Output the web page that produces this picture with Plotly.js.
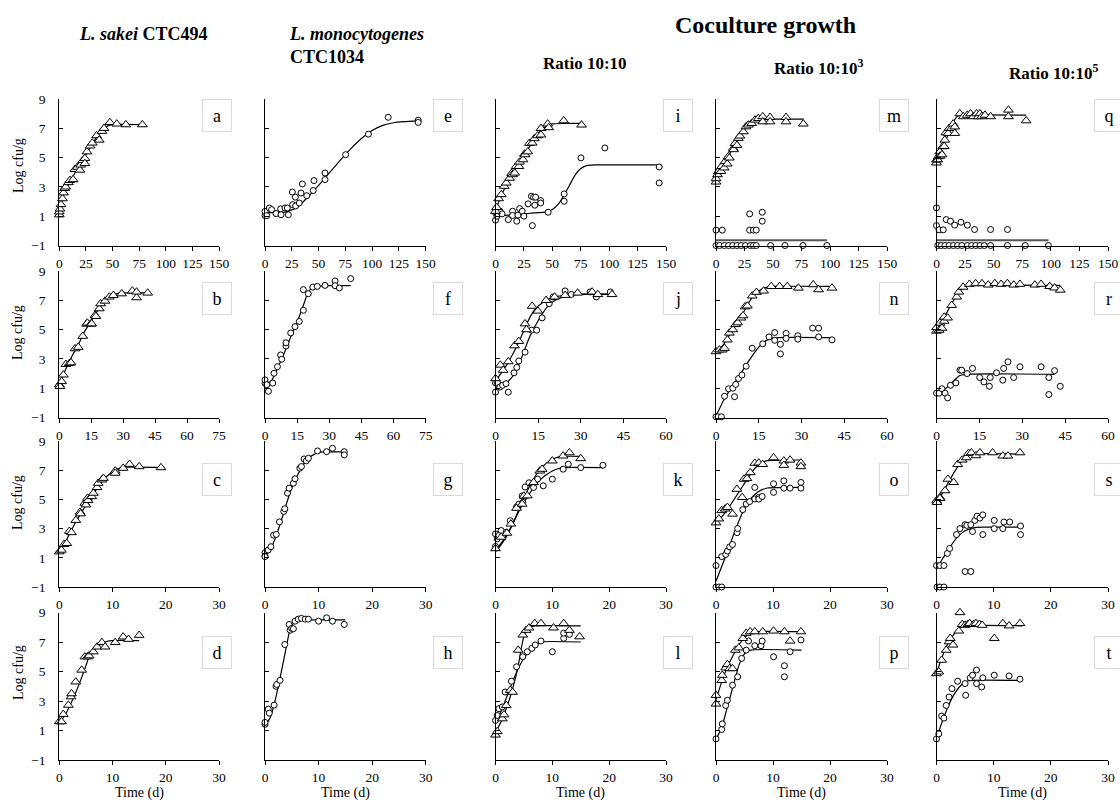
<!DOCTYPE html>
<html><head><meta charset="utf-8">
<script src="https://cdn.plot.ly/plotly-3.0.1.min.js"></script>
<style>html,body{margin:0;padding:0;background:#fff}#chart{width:1120px;height:802px}</style>
</head><body><div id="chart"></div>
<script>
// ---------- DATA (days, log cfu/g) ----------
// Panel a: L. sakei alone, 0-150 d
const aTriT=[0,0,0.6,1.6,3,4,5,6,8.5,10,13,14.7,17,19.4,20,22,24,24,26,29,31,35,37.5,40,42,47.5,54,62.5,78];
const aTriV=[1.1,1.3,1.5,1.8,2.2,2.6,2.9,3.0,3.3,3.45,3.5,4.2,4.35,4.15,4.5,4.8,4.95,4.6,5.4,5.8,6.0,6.5,6.2,6.8,7.0,7.4,7.3,7.25,7.25];
const aFitT=[0,2,4,7,10,15,20,25,30,35,40,45,50,78];
const aFitV=[1.3,1.9,2.4,2.9,3.3,4.0,4.6,5.2,5.8,6.4,6.85,7.15,7.25,7.25];
// Panel e: L. monocytogenes alone
const eCircT=[0,0,1.6,4,6.2,10.3,14.6,15,18.7,20.8,21.8,25.8,25.5,28.3,28.6,32,33.6,34.9,39,45,45.7,56,56,75.3,96.5,115,143,143];
const eCircV=[1.04,1.33,1.04,1.56,1.45,1.18,1.5,1.1,1.56,1.56,1.1,1.79,2.65,2.3,1.7,1.9,2.58,3.2,2.4,2.75,3.43,3.95,3.5,5.2,6.6,7.75,7.55,7.4];
const eFitT=[0,10,20,30,40,50,60,70,80,90,100,110,120,130,143];
const eFitV=[1.25,1.25,1.3,1.6,2.3,3.1,3.95,4.8,5.6,6.3,6.85,7.2,7.38,7.45,7.5];
// Panel i: ratio 10:10
const iTriT=[0,0.9,2.8,5.1,7.7,9.5,12.4,14.2,15,16.9,18.2,20.6,21.1,24.2,25.5,26,28.4,29.8,32.3,34.2,37.1,40,40,45.9,46.8,60,75.7];
const iTriV=[1.34,1.6,2.2,2.48,3.05,3.27,3.6,3.93,3.84,3.95,4.4,4.4,4.7,4.86,5.25,5.2,5.4,5.98,6.0,6.3,6.5,7.0,6.55,7.3,7.05,7.52,7.23];
const iTriFitT=[0,5,10,15,20,25,30,35,40,45,50,60,75.7];
const iTriFitV=[1.4,2.4,3.2,3.9,4.5,5.1,5.75,6.35,6.85,7.15,7.3,7.33,7.33];
const iCircT=[0,0,1.3,4,5.8,11.3,15,15,19.8,18.7,21.2,23.5,25,28.7,31.6,33.5,35.3,34.6,32.4,39.7,39.7,46.3,60.4,60.4,75.2,96.2,144,144];
const iCircV=[0.73,1.23,1.0,1.34,1.16,0.77,1.34,1.05,1.07,0.66,1.52,1.34,1.0,1.84,2.36,2.3,2.3,1.75,0.36,2.07,1.9,1.27,2.52,2.02,4.98,5.66,4.36,3.27];
const iCircFitT=[0,20,30,45,50,55,60,65,70,75,80,87,144];
const iCircFitV=[1.05,1.1,1.2,1.3,1.45,1.8,2.4,3.1,3.8,4.25,4.45,4.5,4.5];
// Panel m: ratio 10:10^3
const mTriT=[0,0,1.3,2.0,4.3,4.9,7.2,7.9,9.8,10.8,11.7,15.2,15.4,16.7,18.4,19.6,21,24,26.3,28.4,31.3,34.2,37.1,41,41,47.4,47.4,61.4,61.4,76.6];
const mTriV=[3.34,3.57,3.84,4.05,4.07,4.4,4.3,4.73,4.57,5.07,4.98,5.64,5.55,5.98,5.84,6.32,6.48,6.77,7.11,7.23,7.34,7.57,7.68,7.8,7.45,7.75,7.45,7.75,7.45,7.3];
const mTriFitT=[0,5,10,15,20,25,30,35,40,77];
const mTriFitV=[3.6,4.3,5.0,5.65,6.3,6.9,7.35,7.58,7.62,7.62];
const mCircT=[0,3.2,7.3,11,14.7,18.4,22.1,25.8,30.2,32.8,35.3,47.9,60.5,76.3,97.3,0,5.5,29.5,32.8,35.3,29.5,40.6,40.6];
const mCircV=[-1,-1,-1,-1,-1,-1,-1,-1,-1,-1,-1,-1,-1,-1,-1,0.05,0.05,0.05,0.05,0.05,1.16,1.27,0.66];
const mLineT=[0,97.3];
const mLineV=[-0.64,-0.64];
// Panel q: ratio 10:10^5
const qTriT=[0,0,1.1,1.5,2.9,3,4.8,5.3,6.7,7.3,8.2,10.2,11.1,13.1,14.6,16,16,20.4,23.4,26.9,29.8,32.2,35.1,36.5,38,39.5,42.4,47.4,62.9,62.9,78.4];
const qTriV=[4.64,4.84,4.86,5.07,5.4,5.1,5.2,5.75,5.77,6.2,6.7,6.66,7.0,7.0,7.3,6.66,7.1,8.0,7.8,7.9,8.0,7.8,8.0,7.8,8.0,7.8,7.9,7.8,8.25,7.8,7.52];
const qTriFitT=[0,4,8,12,16,19,22,78.4];
const qTriFitV=[4.85,5.5,6.2,6.9,7.6,7.85,7.9,7.9];
const qCircT=[0,0,2.2,5.9,8.5,12.2,15.9,21.4,27,33.3,47.3,62.1,1.1,4.1,7.4,11.1,14.8,18.5,22.2,27,30.7,34.4,38.1,41.8,47.3,62.1,77.6,97.9];
const qCircV=[1.57,0.36,0.07,0.07,0.77,0.66,0.39,0.59,0.39,0.09,0.09,0.09,-1,-1,-1,-1,-1,-1,-1,-1,-1,-1,-1,-1,-1,-1,-1,-1];
const qLineT=[0,97.9];
const qLineV=[-0.64,-0.64];
// Panel b
const bTriT=[0,0.3,1.1,1.9,3.1,4.7,5.5,7.4,8.9,11,12.8,13.2,14.7,15.2,16.8,17.2,18.8,19.4,21.5,23.5,25.4,29.3,34.3,36.3,36.3,41.5];
const bTriV=[1.24,1.13,1.46,1.91,2.63,2.69,2.74,3.7,3.8,4.55,5.38,5.45,5.38,5.4,5.98,5.9,6.43,6.77,6.95,7.23,7.34,7.45,7.64,7.18,7.57,7.5];
const bFitT=[0,3,6,9,12,15,18,21,24,27,30,41.5];
const bFitV=[1.3,2.3,3.2,4.0,4.9,5.6,6.3,6.9,7.3,7.45,7.5,7.5];
// Panel f
const fCircT=[0,0,0.8,1.6,3.6,4.2,5.8,7.3,7.8,9.8,9.8,12,14,16,17.9,17.9,20.2,22.3,24.4,28,32.7,32.7,34.7,40];
const fCircV=[1.35,1.57,1.24,0.79,1.35,2.02,2.47,3.27,2.98,3.88,4.1,4.77,5.2,5.56,6.32,7.73,7.45,7.9,7.95,8.02,8.32,8.0,7.84,8.48];
const fFitT=[0,3,6,9,12,15,18,20,22,25,30,40];
const fFitV=[1.3,1.5,2.4,3.4,4.5,5.5,6.7,7.5,7.85,7.95,8.0,8.0];
// Panel j
const jTriT=[0,1.7,2.7,4.5,6.7,8.2,10.4,10.9,12.9,14.9,17.8,20.8,24.5,28.9,34,36,41];
const jTriV=[1.66,2.58,2.23,2.81,3.9,4.2,5.4,5.0,6.6,6.27,7.0,7.23,7.34,7.5,7.57,7.4,7.4];
const jTriFitT=[0,3,6,9,12,14,17,20,25,30,41];
const jTriFitV=[1.5,2.3,3.3,4.5,5.8,6.4,6.9,7.2,7.35,7.42,7.42];
const jCircT=[0,0,0.7,1.5,2.5,3.7,4.5,6.5,7.5,8.2,10.4,12.7,14.5,16.4,18.9,20.3,24.5,26.7,33.3,35.5,40.4];
const jCircV=[0.73,1.36,1.36,1.08,1.2,1.31,0.73,2.05,2.42,2.86,3.46,4.96,4.96,5.8,6.77,7.23,7.64,7.4,7.57,7.23,7.57];
const jCircFitT=[0,3,6,9,12,15,18,21,25,30,41];
const jCircFitV=[1.0,1.2,1.8,3.0,4.5,5.6,6.5,7.0,7.3,7.4,7.42];
// Panel n
const nTriT=[0,1.2,2.2,3.0,4.0,4.7,5.9,6.9,7.6,8.8,9.5,10.2,11,12.7,14.2,16.7,19.4,22.3,25,28.9,34.1,36,40.7];
const nTriV=[3.5,3.62,3.62,3.73,4.3,4.77,5.0,5.35,5.47,5.8,5.95,6.56,6.62,7.3,7.55,7.64,7.95,7.95,7.95,7.84,8.07,7.73,7.84];
const nTriFitT=[0,2,4,6,8,10,12,14,16,18,20,41];
const nTriFitV=[3.5,3.8,4.4,5.0,5.6,6.3,7.0,7.5,7.75,7.9,7.95,7.95];
const nCircT=[0,0.7,1.9,3,4.4,5.9,6.5,6.9,7.9,9.1,10.6,12.7,16.4,18.6,20.6,20.6,22.6,22.6,24.6,24.6,28.7,28.7,33.9,36,36,40.7];
const nCircV=[-0.95,-0.95,-0.95,0.45,0.96,1.0,0.42,1.26,1.66,1.9,2.5,3.73,4.03,4.5,4.8,4.27,3.34,4.0,4.74,4.4,4.58,4.35,5.1,5.1,4.5,4.3];
const nCircFitT=[0,3,6,9,12,15,18,21,41];
const nCircFitV=[-0.9,0.3,1.2,2.1,3.0,3.8,4.3,4.45,4.45];
// Panel r
const rTriT=[0,0,0.9,1.2,1.9,2.7,2.7,3.9,5.3,7.1,7.8,9.3,11.5,13.7,15.9,18.1,20.4,22.6,24.8,27,29.2,34.4,36.6,39.6,41.3,43.3];
const rTriV=[4.9,5.14,4.96,5.45,5.1,5.58,5.86,5.8,6.66,7.23,7.57,7.9,8.1,8.14,8.14,8.05,8.15,8.1,8.15,8.05,8.1,8.05,8.1,7.95,7.85,7.7];
const rTriFitT=[0,2,4,6,8,10,12,43.3];
const rTriFitV=[5.0,5.6,6.3,7.0,7.6,7.95,8.02,8.02];
const rCircT=[0,0.9,1.9,3,3.9,4.9,6.8,8.2,8.8,10.7,12.6,15.1,16.6,18.5,18.8,21,23.2,23.5,25,27,29.2,36.6,39.3,39.3,41.3,43.3];
const rCircV=[0.66,0.66,0.96,0.66,0.34,1.2,1.36,2.23,2.23,2.0,2.35,1.73,1.43,1.13,1.73,2.05,1.55,2.35,2.8,1.73,2.46,2.46,1.73,0.57,2.2,1.13];
const rCircFitT=[0,3,6,8,10,41.3];
const rCircFitV=[0.75,0.95,1.5,1.85,1.95,1.95];
// Panel c
const cTriT=[0,0.4,0.9,1.4,1.9,2.3,3.1,3.9,4.0,4.8,5.0,5.3,5.4,6.1,6.4,7.1,7.3,8.0,8.3,10.5,10.5,12,13.2,15,19.1];
const cTriV=[1.42,1.53,1.92,1.99,2.82,2.73,3.57,4.13,4.02,4.75,4.63,5.09,4.93,5.2,5.43,5.82,6.11,6.34,6.45,6.95,6.8,7.14,7.41,7.25,7.18];
const cFitT=[0,1,2,3,4,5,6,7,8,9,10,11,12,19.1];
const cFitV=[1.45,2.0,2.7,3.4,4.0,4.6,5.15,5.7,6.2,6.6,6.9,7.1,7.2,7.2];
// Panel g
const gCircT=[0,0,0,0.6,1.1,1.6,2.1,2.7,3.5,3.7,4.2,4.5,5.3,5.6,6.5,6.8,7.3,7.7,8.1,9.8,11.5,12.6,14.8,14.8];
const gCircV=[1.35,1.13,1.08,1.53,1.76,2.55,2.6,3.46,4.18,4.36,5.43,5.77,6.11,6.41,7.14,7.25,7.77,7.64,7.82,8.32,8.27,8.5,8.27,8.05];
const gFitT=[0,1,2,3,4,5,6,7,8,9,10,11,15];
const gFitV=[1.2,1.6,2.4,3.5,4.7,5.8,6.6,7.3,7.8,8.05,8.2,8.25,8.25];
// Panel k
const kTriT=[0,1.0,2.0,2.7,3.7,4.7,5.0,5.6,6.7,7.8,8.2,10,11.9,13,15];
const kTriV=[1.63,2.42,2.69,3.32,4.4,4.68,5.24,5.25,6.16,6.95,7.07,7.64,7.98,8.2,7.8];
const kTriFitT=[0,1,2,3,4,5,6,7,8,9,10,11,12,15];
const kTriFitV=[1.4,1.9,2.5,3.3,4.2,5.1,5.9,6.6,7.1,7.5,7.75,7.9,7.95,7.95];
const kCircT=[0,0,0.3,0.6,1.0,1.9,2.6,3.7,4.1,4.7,4.8,5.2,5.9,6.7,6.9,7.4,8.4,10,11.9,12.8,15,18.9];
const kCircV=[1.78,2.64,2.3,2.53,2.87,2.75,3.54,4.49,4.67,5.24,4.8,5.85,6.14,5.82,6.2,6.39,5.93,6.39,7.07,7.41,7.18,7.34];
const kCircFitT=[0,1,2,3,4,5,6,7,8,9,10,11,12,18.9];
const kCircFitV=[1.5,2.0,2.6,3.3,4.1,4.8,5.4,6.0,6.4,6.7,6.95,7.1,7.18,7.18];
// Panel o
const oTriT=[0,0.5,1.0,1.6,2.0,2.9,3.67,4.6,4.93,5.45,6.0,6.8,7.5,8.2,10.1,11.9,11.9,13,14.9,14.9];
const oTriV=[3.4,3.67,4.24,4.35,4.46,4.0,5.7,5.14,6.39,6.43,6.84,7.48,7.5,7.4,7.86,7.64,7.34,7.7,7.5,7.25];
const oTriFitT=[0,1,2,3,4,5,6,7,8,9,15];
const oTriFitV=[3.4,3.8,4.3,4.9,5.5,6.1,6.7,7.2,7.5,7.65,7.7];
const oCircT=[0,0,0.5,1.0,1.0,1.7,2.0,2.4,2.9,3.7,3.8,4.7,5.3,5.9,6.8,6.8,7.5,7.5,8.1,10.1,10.1,11.9,11.9,13,14.9,14.9];
const oCircV=[0.47,-1,-1,-1,1.08,1.23,1.46,1.75,1.91,2.72,3.0,4.3,4.69,4.85,5.03,5.82,5.14,5.02,5.2,6.07,5.48,6.27,5.77,5.77,6.16,5.77];
const oCircFitT=[0,1,2,3,4,5,6,7,8,9,15];
const oCircFitV=[-0.6,0.4,1.4,2.5,3.5,4.4,5.0,5.4,5.65,5.78,5.82];
// Panel s
const sTriT=[0,0.1,0.6,0.6,1.5,2.0,3.0,3.7,4.5,5.2,5.6,6.1,6.9,7.6,9.8,11.6,12.5,14.6];
const sTriV=[4.91,4.8,5.14,5.07,5.6,6.39,6.16,7.4,7.7,7.86,8.16,8.2,8.0,8.2,8.2,7.98,7.98,8.2];
const sTriFitT=[0,1,2,3,4,5,6,15];
const sTriFitV=[4.9,5.4,6.1,6.8,7.4,7.9,8.1,8.1];
const sCircT=[0,0.6,1.3,0.1,0.6,1.3,1.9,2.3,3.5,4.1,5.0,5.3,6.0,6.3,6.7,7.1,7.6,8.1,8.1,10.1,10.1,11.6,11.8,12.8,14.7,14.7,5.0,6.0];
const sCircV=[0.47,0.47,0.47,-1,-1,-1,1.3,1.64,2.59,3.0,3.27,3.22,3.27,2.8,3.56,3.85,3.72,3.94,2.59,3.56,3.0,3.0,3.45,3.45,3.18,2.59,0.06,0.06];
const sCircFitT=[0,1,2,3,4,5,6,7,8,15];
const sCircFitV=[0.25,0.9,1.5,2.1,2.55,2.85,3.0,3.08,3.1,3.1];
// Panel d
const dTriT=[0,0.4,0.75,1.7,2.2,2.3,3.1,4.2,4.8,5.3,5.6,6.4,7.1,8.0,8.6,10.5,12,13,15];
const dTriV=[1.6,1.6,2.1,2.72,3.29,3.5,4.3,5.1,6.0,6.0,6.07,6.34,6.67,6.97,6.67,6.97,7.35,7.19,7.46];
const dFitT=[0,1,2,3,4,5,5.5,6,7,8,9,10,15];
const dFitV=[1.5,2.0,2.7,3.5,4.4,5.4,5.9,6.2,6.6,6.9,7.05,7.1,7.1];
// Panel h
const hCircT=[0,0,0.6,0.8,1.7,2.05,2.2,2.8,3.7,4.5,4.7,5.0,5.3,5.6,6.2,6.8,7.5,8.1,10,11.5,12.6,14.8];
const hCircV=[1.42,1.55,2.45,2.18,2.72,4.0,4.12,4.4,6.83,8.19,7.8,7.92,7.9,8.41,8.55,8.6,8.55,8.55,8.41,8.64,8.41,8.19];
const hFitT=[0,1,2,3,4,4.5,5,5.5,6,8,15];
const hFitV=[1.3,1.9,3.2,4.9,6.7,7.6,8.1,8.35,8.45,8.5,8.5];
// Panel l
const lTriT=[0,0.3,1.2,1.5,1.9,2.6,3.0,4.0,4.8,5.4,5.9,6.9,8.0,10.2,12,13,14.8];
const lTriV=[0.7,0.93,1.8,2.07,2.7,3.73,3.6,6.45,7.48,7.8,7.96,8.26,8.26,7.96,8.26,7.8,7.36];
const lTriFitT=[0,1,2,3,4,4.5,5,5.5,6,7,15];
const lTriFitV=[0.9,1.6,2.6,3.8,5.4,6.5,7.4,7.8,8.0,8.1,8.1];
const lCircT=[0,0.3,0.6,1.2,1.7,2.8,3.7,4.8,5.6,6.4,7.0,8.0,10,12,12,13];
const lCircV=[1.68,2.02,2.48,2.6,3.61,4.34,5.32,6.0,6.34,6.57,6.8,7.07,6.34,7.25,7.6,7.52];
const lCircFitT=[0,1,2,3,4,5,6,7,8,15];
const lCircFitV=[1.5,2.3,3.3,4.3,5.2,5.9,6.4,6.75,7.0,7.0];
// Panel p
const pTriT=[0,0,1.0,1.1,1.7,2.0,2.4,2.9,3.4,4.0,4.7,5.3,6.0,6.8,8.2,10.1,12,13,14.9];
const pTriV=[3.39,2.8,4.4,4.75,5.25,5.48,5.2,5.2,6.45,6.61,7.25,7.6,7.7,7.7,7.7,7.75,7.7,7.07,7.7];
const pTriFitT=[0,1,2,3,4,5,6,7,15];
const pTriFitV=[3.1,4.3,5.3,6.1,6.8,7.3,7.6,7.7,7.7];
const pCircT=[0,1.0,1.1,1.7,2.0,2.9,3.8,4.5,5.3,5.7,6.8,7.9,8.1,10.1,12,12,13,14.9];
const pCircV=[0.43,1.07,1.45,2.7,3.05,4.07,4.64,5.89,6.45,7.07,6.75,6.75,7.07,6.0,5.39,4.64,6.34,7.14];
const pCircFitT=[0,1,2,3,4,5,6,15];
const pCircFitV=[0.4,1.2,2.6,4.0,5.4,6.2,6.45,6.45];
// Panel t
const tTriT=[0,0.4,0.9,1.7,2.2,2.4,2.9,3.9,4.1,4.5,5.0,5.5,5.8,6.5,6.9,7.5,8.0,10.1,11.6,12.7,14.6];
const tTriV=[4.86,4.98,5.77,6.45,7.02,7.25,6.8,7.75,9.0,8.2,8.14,8.2,8.26,8.2,8.26,8.2,8.14,7.25,8.26,8.1,8.26];
const tTriFitT=[0,1,2,3,4,5,15];
const tTriFitV=[4.9,6.0,6.9,7.5,7.95,8.1,8.1];
const tCircT=[0,0.4,0.9,1.3,1.7,2.2,2.7,3.7,5.0,5.1,5.9,6.3,7.0,7.0,7.9,8.1,10.1,12.7,14.6];
const tCircV=[0.43,0.77,1.98,1.84,2.7,3.27,3.84,4.34,4.18,3.39,4.57,4.75,4.18,5.1,3.95,4.57,4.75,4.7,4.48];
const tCircFitT=[0,1,2,3,4,5,6,15];
const tCircFitV=[0.5,1.6,2.6,3.4,3.95,4.3,4.4,4.4];

// Tick labels / text
const yTickVals=[-1,1,3,5,7,9];
const panelLetters=['a','b','c','d','e','f','g','h','i','j','k','l','m','n','o','p','q','r','s','t'];
const xRanges=[[150,75,30,30],[150,75,30,30],[150,60,30,30],[150,60,30,30],[150,60,30,30]];
const xDticks=[[25,15,10,10],[25,15,10,10],[25,15,10,10],[25,15,10,10],[25,15,10,10]];

// ---------- LAYOUT GEOMETRY ----------
const W=1120,H=802;
const colX=[[59.3,219],[265,425.7],[495.5,666],[716,887],[936.5,1108]];
const rowY=[[99,245.5],[271,417.5],[441,587],[612.5,760]];
const yTitleY=[166,333,503,673];
const boxX=[217,448,678,894,1109];
const boxY=[115.5,298,479,652];
const FONT='"Liberation Serif","Times New Roman",serif';

const panels={
 a:{tri:[aTriT,aTriV],triFit:[aFitT,aFitV]},
 b:{tri:[bTriT,bTriV],triFit:[bFitT,bFitV]},
 c:{tri:[cTriT,cTriV],triFit:[cFitT,cFitV]},
 d:{tri:[dTriT,dTriV],triFit:[dFitT,dFitV]},
 e:{circ:[eCircT,eCircV],circFit:[eFitT,eFitV]},
 f:{circ:[fCircT,fCircV],circFit:[fFitT,fFitV]},
 g:{circ:[gCircT,gCircV],circFit:[gFitT,gFitV]},
 h:{circ:[hCircT,hCircV],circFit:[hFitT,hFitV]},
 i:{tri:[iTriT,iTriV],triFit:[iTriFitT,iTriFitV],circ:[iCircT,iCircV],circFit:[iCircFitT,iCircFitV]},
 j:{tri:[jTriT,jTriV],triFit:[jTriFitT,jTriFitV],circ:[jCircT,jCircV],circFit:[jCircFitT,jCircFitV]},
 k:{tri:[kTriT,kTriV],triFit:[kTriFitT,kTriFitV],circ:[kCircT,kCircV],circFit:[kCircFitT,kCircFitV]},
 l:{tri:[lTriT,lTriV],triFit:[lTriFitT,lTriFitV],circ:[lCircT,lCircV],circFit:[lCircFitT,lCircFitV]},
 m:{tri:[mTriT,mTriV],triFit:[mTriFitT,mTriFitV],circ:[mCircT,mCircV],gray:[mLineT,mLineV]},
 n:{tri:[nTriT,nTriV],triFit:[nTriFitT,nTriFitV],circ:[nCircT,nCircV],circFit:[nCircFitT,nCircFitV]},
 o:{tri:[oTriT,oTriV],triFit:[oTriFitT,oTriFitV],circ:[oCircT,oCircV],circFit:[oCircFitT,oCircFitV]},
 p:{tri:[pTriT,pTriV],triFit:[pTriFitT,pTriFitV],circ:[pCircT,pCircV],circFit:[pCircFitT,pCircFitV]},
 q:{tri:[qTriT,qTriV],triFit:[qTriFitT,qTriFitV],circ:[qCircT,qCircV],gray:[qLineT,qLineV]},
 r:{tri:[rTriT,rTriV],triFit:[rTriFitT,rTriFitV],circ:[rCircT,rCircV],circFit:[rCircFitT,rCircFitV]},
 s:{tri:[sTriT,sTriV],triFit:[sTriFitT,sTriFitV],circ:[sCircT,sCircV],circFit:[sCircFitT,sCircFitV]},
 t:{tri:[tTriT,tTriV],triFit:[tTriFitT,tTriFitV],circ:[tCircT,tCircV],circFit:[tCircFitT,tCircFitV]}
};

const traces=[];
const layout={width:W,height:H,margin:{l:0,r:0,t:0,b:0},paper_bgcolor:'#fff',plot_bgcolor:'rgba(0,0,0,0)',
  showlegend:false,font:{family:FONT,color:'#000',size:13.5},annotations:[]};

for(let c=0;c<5;c++){
 for(let r=0;r<4;r++){
  const idx=c*4+r; const n=idx+1;
  const letter=panelLetters[idx];
  const xa='xaxis'+(n===1?'':n), ya='yaxis'+(n===1?'':n);
  const xr='x'+(n===1?'':n), yr='y'+(n===1?'':n);
  layout[xa]={domain:[colX[c][0]/W,colX[c][1]/W],anchor:yr,range:[0,xRanges[c][r]],tick0:0,dtick:xDticks[c][r],
    showline:true,linecolor:'#000',linewidth:1,ticks:'outside',ticklen:4,tickcolor:'#000',tickwidth:1,
    showgrid:false,zeroline:false,fixedrange:true,tickfont:{family:FONT,size:13.5,color:'#000'},ticklabelstandoff:1};
  layout[ya]={domain:[1-rowY[r][1]/H,1-rowY[r][0]/H],anchor:xr,range:[-1,9],tickmode:'array',tickvals:yTickVals,
    showticklabels:c===0,showline:true,linecolor:'#000',linewidth:1,ticks:'inside',ticklen:4,tickcolor:'#000',tickwidth:1,
    showgrid:false,zeroline:false,fixedrange:true,tickfont:{family:FONT,size:13.5,color:'#000'},ticklabelstandoff:10};
  const P=panels[letter];
  const lineStyle={color:'#000',width:1.2};
  if(P.gray) traces.push({x:P.gray[0],y:P.gray[1],xaxis:xr,yaxis:yr,mode:'lines',line:{color:'#555',width:2.2},cliponaxis:false,hoverinfo:'skip'});
  if(P.triFit) traces.push({x:P.triFit[0],y:P.triFit[1],xaxis:xr,yaxis:yr,mode:'lines',line:Object.assign({shape:'spline',smoothing:0.5},lineStyle),hoverinfo:'skip'});
  if(P.circFit) traces.push({x:P.circFit[0],y:P.circFit[1],xaxis:xr,yaxis:yr,mode:'lines',line:Object.assign({shape:'spline',smoothing:0.5},lineStyle),hoverinfo:'skip'});
  if(P.circ) traces.push({x:P.circ[0],y:P.circ[1],xaxis:xr,yaxis:yr,mode:'markers',cliponaxis:false,
     marker:{symbol:'circle',size:6,color:'#fff',line:{color:'#000',width:1}}});
  if(P.tri) traces.push({x:P.tri[0],y:P.tri[1],xaxis:xr,yaxis:yr,mode:'markers',cliponaxis:false,
     marker:{symbol:'triangle-up',size:8.5,color:'#fff',line:{color:'#000',width:1}}});
  // panel letter box
  layout.annotations.push({xref:'paper',yref:'paper',x:boxX[c]/W,y:1-boxY[r]/H,xanchor:'center',yanchor:'middle',
    text:letter,showarrow:false,font:{family:FONT,size:18,color:'#000'},bgcolor:'#fff',bordercolor:'#d9d9d9',borderwidth:1,
    borderpad:0,width:28,height:31});
 }
}
// y titles
for(let r=0;r<4;r++){
  layout.annotations.push({xref:'paper',yref:'paper',x:18/W,y:1-yTitleY[r]/H,xanchor:'center',yanchor:'middle',
    text:'Log cfu/g',textangle:-90,showarrow:false,font:{family:FONT,size:14,color:'#000'}});
}
// x titles
for(let c=0;c<5;c++){
  layout.annotations.push({xref:'paper',yref:'paper',x:((colX[c][0]+colX[c][1])/2)/W,y:1-793/H,xanchor:'center',yanchor:'middle',
    text:'Time (d)',showarrow:false,font:{family:FONT,size:14,color:'#000'}});
}
// headers
const hdr=(x,y,text,size,xanchor,align)=>layout.annotations.push({xref:'paper',yref:'paper',x:x/W,y:1-y/H,xanchor:xanchor||'center',
  yanchor:'middle',align:align||'center',text:text,showarrow:false,font:{family:FONT,size:size,color:'#000'}});
hdr(765,25,'<b>Coculture growth</b>',24);
hdr(143,34,'<b><i>L. sakei</i> CTC494</b>',18);
hdr(287,45,'<b><i>L. monocytogenes</i></b><br><b>CTC1034</b>',18,'left','left');
hdr(585,63,'<b>Ratio 10:10</b>',17);
hdr(819,67,'<b>Ratio 10:10<sup>3</sup></b>',17);
hdr(1054,72,'<b>Ratio 10:10<sup>5</sup></b>',17);

Plotly.newPlot('chart',traces,layout,{staticPlot:true,displayModeBar:false});
</script></body></html>
